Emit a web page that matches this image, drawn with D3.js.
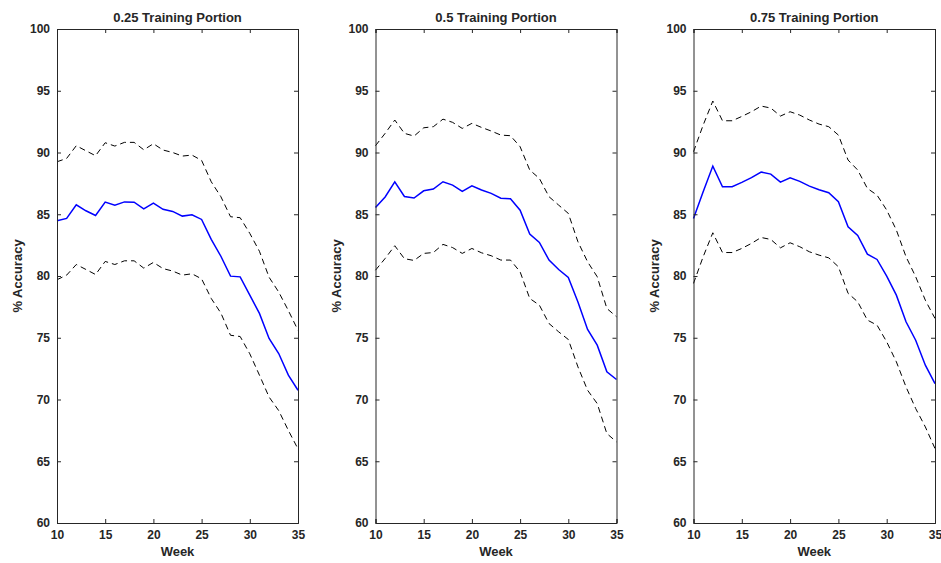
<!DOCTYPE html>
<html><head><meta charset="utf-8">
<script src="https://cdn.jsdelivr.net/npm/d3@7"></script>
<style>
html,body{margin:0;padding:0;background:#fff;}
text{font-family:"Liberation Sans",Arial,Helvetica,sans-serif;font-weight:bold;fill:#262626;}
</style></head>
<body><svg id="chart" width="941" height="563"></svg>
<script>
const weeks = d3.range(10, 36);
const titles = ["0.25 Training Portion", "0.5 Training Portion", "0.75 Training Portion"];
const yTicks = [60, 65, 70, 75, 80, 85, 90, 95, 100];
const xTicks = [10, 15, 20, 25, 30, 35];

const mean25 = [84.47,84.66,85.77,85.28,84.9,85.98,85.74,86.0,85.98,85.44,85.9,85.4,85.23,84.85,84.96,84.58,82.96,81.6,79.99,79.93,78.45,76.97,74.94,73.72,71.97,70.75];
const upper25 = [89.25,89.52,90.55,90.14,89.74,90.79,90.52,90.82,90.82,90.22,90.71,90.2,90.0,89.71,89.79,89.36,87.63,86.42,84.8,84.72,83.45,82.0,79.9,78.7,77.2,75.6];
const lower25 = [79.7,80.07,80.93,80.53,80.12,81.18,80.93,81.23,81.23,80.64,81.1,80.6,80.4,80.07,80.18,79.77,78.18,77.0,75.2,75.1,73.7,71.97,70.2,69.1,67.5,66.0];

const mean50 = [85.55,86.4,87.63,86.44,86.31,86.9,87.04,87.63,87.36,86.85,87.3,86.96,86.69,86.3,86.25,85.33,83.39,82.72,81.29,80.53,79.88,77.9,75.67,74.4,72.24,71.62];
const upper50 = [90.55,91.55,92.63,91.55,91.33,92.0,92.09,92.7,92.44,91.95,92.36,92.03,91.74,91.41,91.36,90.47,88.58,87.9,86.42,85.74,85.07,82.77,81.15,79.94,77.37,76.7];
const lower50 = [80.47,81.42,82.45,81.4,81.26,81.83,81.9,82.56,82.3,81.83,82.23,81.88,81.64,81.29,81.29,80.34,78.18,77.64,76.15,75.48,74.86,72.64,70.75,69.67,67.24,66.57];

const mean75 = [84.66,86.82,88.9,87.23,87.23,87.58,87.96,88.42,88.25,87.6,87.96,87.66,87.28,86.98,86.74,86.01,83.99,83.28,81.77,81.34,79.99,78.45,76.29,74.8,72.78,71.29];
const upper75 = [90.06,92.22,94.17,92.57,92.57,92.92,93.3,93.76,93.6,92.95,93.3,93.03,92.63,92.3,92.09,91.41,89.39,88.58,87.09,86.55,85.34,83.72,81.56,79.94,78.04,76.56];
const lower75 = [79.4,81.56,83.5,81.9,81.9,82.23,82.64,83.12,82.96,82.28,82.69,82.37,81.96,81.69,81.47,80.75,78.6,77.91,76.43,76.02,74.67,73.05,71.02,69.27,67.78,66.03];

(function () {
const panels = [
  {title: titles[0], mean: mean25, upper: upper25, lower: lower25, left: 57, right: 298},
  {title: titles[1], mean: mean50, upper: upper50, lower: lower50, left: 375.5, right: 616.5},
  {title: titles[2], mean: mean75, upper: upper75, lower: lower75, left: 693.5, right: 935}
];
const plotTop = 29, plotBottom = 523;
const svg = d3.select("#chart");
const axisColor = "#262626";

panels.forEach(p => {
  const x = d3.scaleLinear().domain([10, 35]).range([p.left, p.right]);
  const y = d3.scaleLinear().domain([60, 100]).range([plotBottom, plotTop]);
  const g = svg.append("g");

  const line = vals => d3.line().x((d, i) => x(weeks[i])).y(d => y(d))(vals);
  g.append("path").attr("d", line(p.upper)).attr("fill", "none").attr("stroke", "#000").attr("stroke-width", 1).attr("stroke-dasharray", "6,4");
  g.append("path").attr("d", line(p.lower)).attr("fill", "none").attr("stroke", "#000").attr("stroke-width", 1).attr("stroke-dasharray", "6,4");
  g.append("path").attr("d", line(p.mean)).attr("fill", "none").attr("stroke", "#0000ff").attr("stroke-width", 1.5);

  const tk = 4;
  const bAx = g.append("g").attr("transform", `translate(0,${plotBottom})`)
    .call(d3.axisBottom(x).tickValues(xTicks).tickSize(-tk).tickPadding(7));
  const tAx = g.append("g").attr("transform", `translate(0,${plotTop})`)
    .call(d3.axisTop(x).tickValues(xTicks).tickSize(-tk).tickFormat(""));
  const lAx = g.append("g").attr("transform", `translate(${p.left},0)`)
    .call(d3.axisLeft(y).tickValues(yTicks).tickSize(-tk).tickPadding(7));
  const rAx = g.append("g").attr("transform", `translate(${p.right},0)`)
    .call(d3.axisRight(y).tickValues(yTicks).tickSize(-tk).tickFormat(""));
  [bAx, tAx, lAx, rAx].forEach(a => {
    a.selectAll("path.domain").attr("stroke", axisColor).attr("stroke-width", 1);
    a.selectAll(".tick line").attr("stroke", axisColor).attr("stroke-width", 1);
    a.selectAll(".tick text").attr("font-size", 12).attr("font-weight", "bold")
      .attr("font-family", "Liberation Sans, Arial, sans-serif").attr("fill", axisColor);
  });

  g.append("text").attr("x", (p.left + p.right) / 2).attr("y", 22)
    .attr("text-anchor", "middle").attr("font-size", 13).text(p.title);
  g.append("text").attr("x", (p.left + p.right) / 2).attr("y", 556)
    .attr("text-anchor", "middle").attr("font-size", 13).text("Week");
  g.append("text").attr("transform", `translate(${p.left - 35},${(plotTop + plotBottom) / 2}) rotate(-90)`)
    .attr("text-anchor", "middle").attr("font-size", 13).text("% Accuracy");
});
})();
</script></body></html>
